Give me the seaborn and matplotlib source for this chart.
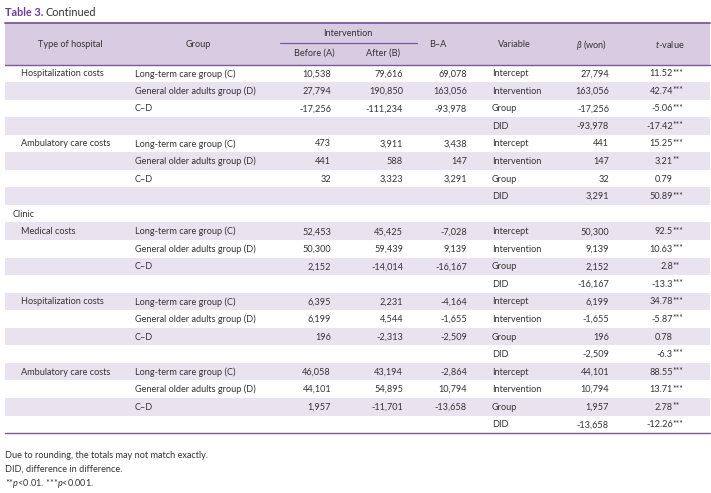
import numpy as np
import matplotlib
matplotlib.use("Agg")
import matplotlib.pyplot as plt
import seaborn as sns

# ------------------------------------------------------------
# data read off the table
# ------------------------------------------------------------
SECTIONS = [None, None, "Clinic", None, None]
TYPES = ["Hospitalization costs", "Ambulatory care costs",
         "Medical costs", "Hospitalization costs", "Ambulatory care costs"]
GROUPS = ["Long-term care group (C)", "General older adults group (D)", "C\u2013D"]
VARIABLES = ["Intercept", "Intervention", "Group", "DID"]

before = [[10538, 27794, -17256],
          [473, 441, 32],
          [52453, 50300, 2152],
          [6395, 6199, 196],
          [46058, 44101, 1957]]
after = [[79616, 190850, -111234],
         [3911, 588, 3323],
         [45425, 59439, -14014],
         [2231, 4544, -2313],
         [43194, 54895, -11701]]
diff_ba = [[69078, 163056, -93978],
           [3438, 147, 3291],
           [-7028, 9139, -16167],
           [-4164, -1655, -2509],
           [-2864, 10794, -13658]]
beta = [[27794, 163056, -17256, -93978],
        [441, 147, 32, 3291],
        [50300, 9139, 2152, -16167],
        [6199, -1655, 196, -2509],
        [44101, 10794, 1957, -13658]]
t_vals = [["11.52", "42.74", "-5.06", "-17.42"],
          ["15.25", "3.21", "0.79", "50.89"],
          ["92.5", "10.63", "2.8", "-13.3"],
          ["34.78", "-5.87", "0.78", "-6.3"],
          ["88.55", "13.71", "2.78", "-12.26"]]
t_stars = [["***", "***", "***", "***"],
           ["***", "**", "", "***"],
           ["***", "***", "**", "***"],
           ["***", "***", "", "***"],
           ["***", "***", "**", "***"]]

FOOTNOTES = ["Due to rounding, the totals may not match exactly.",
             "DID, difference in difference.",
             r"**$p$<0.01. ***$p$<0.001."]

# ------------------------------------------------------------
# style
# ------------------------------------------------------------
sns.set_theme(style="white")
plt.rcParams['font.family'] = ['Lato', 'DejaVu Sans']
plt.rcParams['mathtext.fontset'] = 'custom'
plt.rcParams['mathtext.rm'] = 'Lato'
plt.rcParams['mathtext.it'] = 'Lato:italic'

TXT = '#333333'
PURPLE = '#7a5a9c'
HEAD_BG = '#d9cbe2'
ROW_BG = '#e9e3f0'
FS = 6.6

# build the list of rows
rows = []
for s, typ, b, a, d, be, tv, ts in zip(SECTIONS, TYPES, before, after, diff_ba,
                                         beta, t_vals, t_stars):
    if s is not None:
        rows.append({'section': s})
    for k in range(4):
        r = {'type': typ if k == 0 else '',
             'var': VARIABLES[k], 'beta': f"{be[k]:,}",
             't': tv[k], 'star': ts[k]}
        if k < 3:
            r.update(group=GROUPS[k], before=f"{b[k]:,}",
                     after=f"{a[k]:,}", diff=f"{d[k]:,}")
        rows.append(r)

fig = plt.figure(figsize=(7.11, 4.93), dpi=100)
ax = fig.add_axes([0, 0, 1, 1])
ax.set_xlim(0, 711)
ax.set_ylim(493, 0)
ax.axis('off')

X0, X1 = 5, 710
TOP, HEAD_BOT = 23, 64.5
ROW_H = 17.55

# header + zebra rows
ax.add_patch(plt.Rectangle((X0, TOP), X1 - X0, HEAD_BOT - TOP, color=HEAD_BG, lw=0))
for i, r in enumerate(rows):
    if i % 2 == 1:
        ax.add_patch(plt.Rectangle((X0, HEAD_BOT + i * ROW_H), X1 - X0, ROW_H,
                                   color=ROW_BG, lw=0))
bottom = HEAD_BOT + len(rows) * ROW_H

ax.plot([X0, X1], [TOP, TOP], color=PURPLE, lw=1.3)
ax.plot([X0, X1], [HEAD_BOT, HEAD_BOT], color=PURPLE, lw=1.0)
ax.plot([280, 417], [43, 43], color=PURPLE, lw=0.9)
ax.plot([X0, X1], [bottom, bottom], color=PURPLE, lw=1.0)

ax.text(X0, 12, "Table 3.", color='#6b3f93', fontsize=7.8, fontweight='bold',
        va='center', ha='left')
ax.text(X0 + 41, 12, "Continued", color=TXT, fontsize=7.8, va='center', ha='left')

hy = (TOP + HEAD_BOT) / 2 + 1
for label, x in [("Type of hospital", 70), ("Group", 198), ("B\u2013A", 438),
                 ("Variable", 514), (r"$\beta$ (won)", 592), (r"$t$-value", 670)]:
    ax.text(x, hy, label, color=TXT, fontsize=FS, ha='center', va='center')
ax.text(348, 34, "Intervention", color=TXT, fontsize=FS, ha='center', va='center')
ax.text(314, 53.5, "Before (A)", color=TXT, fontsize=FS, ha='center', va='center')
ax.text(383, 53.5, "After (B)", color=TXT, fontsize=FS, ha='center', va='center')

for i, r in enumerate(rows):
    y = HEAD_BOT + (i + 0.5) * ROW_H + 0.5
    if 'section' in r:
        ax.text(13, y, r['section'], color=TXT, fontsize=FS, va='center')
        continue
    ax.text(21, y, r['type'], color=TXT, fontsize=FS, va='center')
    if 'group' in r:
        ax.text(135, y, r['group'], color=TXT, fontsize=FS, va='center')
        ax.text(331, y, r['before'], color=TXT, fontsize=FS, va='center', ha='right')
        ax.text(403, y, r['after'], color=TXT, fontsize=FS, va='center', ha='right')
        ax.text(467, y, r['diff'], color=TXT, fontsize=FS, va='center', ha='right')
    ax.text(492, y, r['var'], color=TXT, fontsize=FS, va='center')
    ax.text(609, y, r['beta'], color=TXT, fontsize=FS, va='center', ha='right')
    ax.text(673, y, r['t'], color=TXT, fontsize=FS, va='center', ha='right')
    if r['star']:
        ax.text(672.3, y - 0.6, r['star'], color=TXT, fontsize=FS - 0.4, va='center')

for k, note in enumerate(FOOTNOTES):
    ax.text(X0, 455 + k * 14, note, color=TXT, fontsize=FS, va='center')

fig.savefig('out.png', dpi=100)
